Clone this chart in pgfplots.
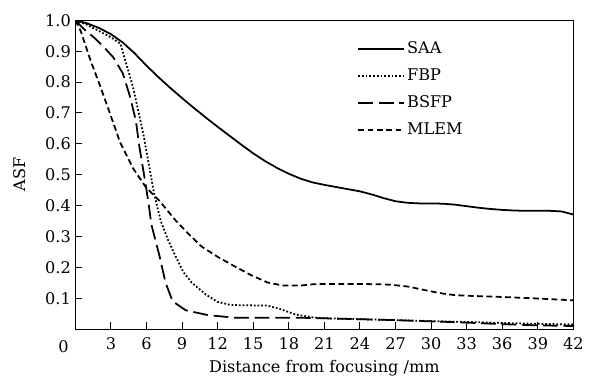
\documentclass[border={8bp 2bp 0bp 9bp}]{standalone}
\usepackage{pgfplots}
\pgfplotsset{compat=1.18}
\usepackage{fontspec}
\setmainfont{DejaVu Serif}
\begin{document}
\fontsize{16.5}{19}\selectfont
\begin{tikzpicture}[x=1bp,y=1bp]
\begin{axis}[
  scale only axis,
  width=508bp, height=315bp,
  xmin=0, xmax=42, ymin=0, ymax=1,
  clip mode=individual,
  xtick={3,6,...,42},
  xticklabels={3,6,9,12,15,18,21,24,27,30,33,36,39,42},
  ytick={0.1,0.2,0.3,0.4,0.5,0.6,0.7,0.8,0.9,1.0},
  yticklabels={0.1,0.2,0.3,0.4,0.5,0.6,0.7,0.8,0.9,1.0},
  xticklabel style={yshift=-3bp},
  yticklabel style={xshift=1bp},
  tick align=inside,
  major tick length=7bp,
  xtick pos=bottom, ytick pos=left,
  axis line style={line width=1.2pt},
  tick style={line width=1pt, black},
  xlabel={Distance from focusing /mm},
  ylabel={ASF},
  xlabel style={yshift=0bp},
  ylabel style={yshift=9bp},
  legend style={draw=none, at={(0.56,0.943)}, anchor=north west, fill=none,
    row sep=9bp, font=\fontsize{16.5}{19}\selectfont},
  legend cell align=left,
  legend image code/.code={\path (0bp,0bp) -- (47bp,0bp);\draw[line width=1.8pt,#1] (0bp,0bp) -- (42bp,0bp);},
  every axis plot/.append style={line width=1.8pt, black},
]
\addplot[solid] coordinates {
(0,1.0) (1,0.99) (2,0.975) (3,0.955) (4,0.928) (5,0.893) (6,0.853) (7,0.816)
(8,0.781) (9,0.748) (10,0.716) (11,0.685) (12,0.655) (13,0.626) (14,0.597)
(15,0.569) (16,0.544) (17,0.522) (18,0.503) (19,0.487) (20,0.475) (21,0.467)
(22,0.46) (23,0.453) (24,0.446) (25,0.436) (26,0.424) (27,0.414) (28,0.409)
(29,0.407) (30,0.407) (31,0.406) (32,0.403) (33,0.398) (34,0.393) (35,0.389)
(36,0.386) (37,0.384) (38,0.383) (39,0.383) (40,0.383) (41,0.381) (42,0.371)
};
\addlegendentry{SAA}
\addplot[dotted] coordinates {
(0,1.0) (1,0.985) (2,0.965) (3,0.945) (3.8,0.924) (4.3,0.858) (4.86,0.784)
(5.4,0.69) (5.7,0.638) (6.2,0.532) (6.65,0.437) (7.2,0.35) (7.8,0.29)
(8.45,0.236) (9.1,0.185) (9.8,0.151) (11,0.112) (12,0.088) (13.1,0.078)
(14.5,0.077) (16.2,0.076) (17.2,0.066) (18.6,0.047) (20,0.038) (21,0.035)
(24,0.032) (27,0.029) (30,0.026) (33,0.023) (36,0.02) (39,0.017) (42,0.015)
};
\addlegendentry{FBP}
\addplot[dash pattern=on 15bp off 6bp] coordinates {
(0,1.0) (0.7,0.972) (1.55,0.945) (2.4,0.913) (3.2,0.88) (4.0,0.828)
(4.6,0.754) (5.1,0.675) (5.4,0.59) (5.97,0.458) (6.2,0.40) (6.4,0.34)
(7.1,0.236) (7.6,0.151) (8.2,0.09) (9.3,0.061) (11.2,0.045) (13.4,0.037)
(18.6,0.037) (21,0.035) (24,0.032) (27,0.029) (30,0.025) (33,0.021)
(36,0.016) (39,0.012) (42,0.01)
};
\addlegendentry{BSFP}
\addplot[dash pattern=on 6bp off 3.5bp] coordinates {
(0,1.0) (0.45,0.965) (1.28,0.87) (2.1,0.786) (2.9,0.70) (3.76,0.606)
(4.86,0.521) (5.97,0.458) (7.07,0.416) (8.45,0.352) (9.5,0.31) (10.65,0.267)
(12,0.234) (13.4,0.204) (14.8,0.175) (16.2,0.151) (17.5,0.141) (19,0.141)
(20,0.145) (21,0.146) (24,0.146) (26,0.145) (27,0.142)
(28,0.138) (29,0.13) (30,0.122) (31,0.115) (32,0.11) (33,0.108)
(36,0.104) (39,0.099) (42,0.093)
};
\addlegendentry{MLEM}
\node[anchor=north, xshift=-12bp, yshift=-6.3bp] at (rel axis cs:0,0) {0};
\end{axis}
\end{tikzpicture}
\end{document}
